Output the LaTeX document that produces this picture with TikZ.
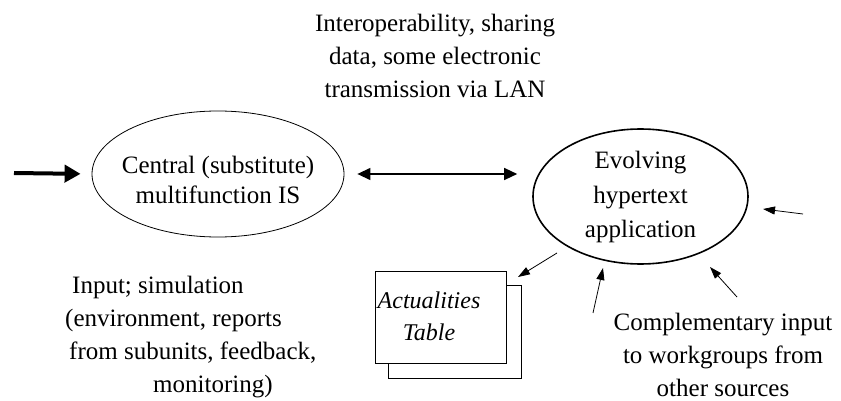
\documentclass[tikz,border=0pt]{standalone}
\usepackage{fontspec}
\setmainfont{Liberation Serif}
\usetikzlibrary{arrows.meta,shapes.geometric}
\begin{document}
\begin{tikzpicture}[x=1pt,y=-1pt,
  txt/.style={align=center,font=\fontsize{25}{33}\selectfont,inner sep=0pt},
  ell/.style={ellipse,draw,inner sep=0pt},
  thinarr/.style={line width=0.8pt,-{Triangle[length=12pt,width=8pt]}},
  boxsty/.style={rectangle,draw,line width=0.9pt,fill=white,inner sep=0pt}]
\useasboundingbox (0,0) rectangle (841,401);
% top label
\node[txt] (toplbl) at (435,56) {Interoperability, sharing\\data, some electronic\\transmission via LAN};
% ellipses
\node[ell,line width=0.8pt,minimum width=252pt,minimum height=126pt] (central) at (218,174) {};
\node[txt,font=\fontsize{25}{30}\selectfont] (centraltxt) at (218,180) {Central (substitute)\\multifunction IS};
\node[ell,line width=1.6pt,minimum width=215pt,minimum height=135pt] (evolve) at (640.5,196.5) {};
\node[txt,font=\fontsize{25}{34.5}\selectfont] (evolvetxt) at (640.5,197) {Evolving\\hypertext\\application};
% table
\node[boxsty,minimum width=133pt,minimum height=93pt] (tableback) at (454.5,331.5) {};
\node[boxsty,minimum width=131pt,minimum height=92pt] (table) at (440.5,317) {};
\node[txt,font=\itshape\fontsize{24}{32}\selectfont] (tabletxt) at (429,316) {Actualities\\Table};
% bottom labels
\node[txt,align=left,anchor=west] (inputlbl) at (65,337) {\hspace*{7pt}Input; simulation\\(environment, reports\\\hspace*{4pt}from subunits, feedback,\\\hspace*{88pt}monitoring)};
\node[txt] (complbl) at (723,355) {Complementary input\\to workgroups from\\other sources};
% free ends
\coordinate (inL) at (14,173);
\coordinate (r1s) at (803,214);
\coordinate (r1e) at (763,209);
\coordinate (t1s) at (557,253);
\coordinate (t1e) at (518,277);
\coordinate (c1s) at (593,313);
\coordinate (c1e) at (603,268);
\coordinate (c2s) at (737,297);
\coordinate (c2e) at (710,267);
% connectors
\draw[line width=4pt,-{Triangle[length=16pt,width=17pt]},shorten >=11pt] (inL) -- (central.west);
\draw[line width=1.3pt,{Triangle[length=13pt,width=12pt]}-{Triangle[length=13pt,width=12pt]},shorten <=13pt,shorten >=15pt] (central.east) -- (central.east -| evolve.west);
\draw[thinarr] (r1s) -- (r1e);
\draw[thinarr] (t1s) -- (t1e);
\draw[thinarr] (c1s) -- (c1e);
\draw[thinarr] (c2s) -- (c2e);
\end{tikzpicture}
\end{document}
